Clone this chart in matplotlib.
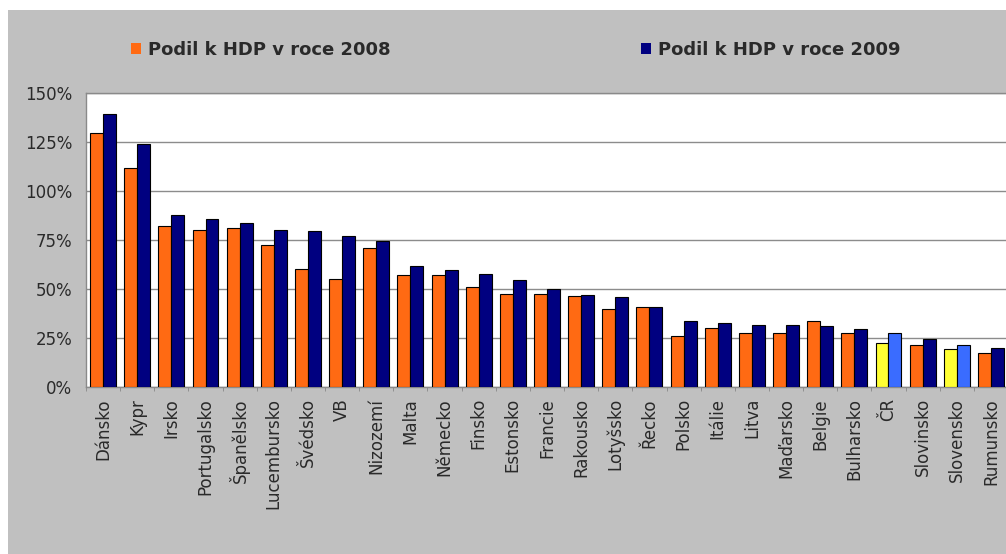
import numpy as np
import matplotlib
matplotlib.use("Agg")
import matplotlib.pyplot as plt
import matplotlib.patches as mpatches
from matplotlib.ticker import FuncFormatter, FixedLocator

countries = ["Dánsko", "Kypr", "Irsko", "Portugalsko", "Španělsko", "Lucembursko",
             "Švédsko", "VB", "Nizozemí", "Malta", "Německo", "Finsko", "Estonsko",
             "Francie", "Rakousko", "Lotyšsko", "Řecko", "Polsko", "Itálie", "Litva",
             "Maďarsko", "Belgie", "Bulharsko", "ČR", "Slovinsko", "Slovensko", "Rumunsko"]
share_2008 = [129.5, 111.7, 82.3, 80.3, 81.3, 72.4, 60.2, 55.1, 71.1, 57.1, 57.1, 50.8,
              47.5, 47.5, 46.2, 39.6, 40.9, 25.9, 30.0, 27.3, 27.3, 33.7, 27.3, 22.5,
              21.2, 19.3, 17.2]
share_2009 = [139.3, 124.1, 87.9, 85.6, 83.5, 80.3, 79.4, 77.2, 74.3, 61.9, 59.5, 57.6,
              54.5, 49.9, 46.9, 46.0, 40.9, 33.6, 32.7, 31.5, 31.5, 31.2, 29.5, 27.3,
              24.7, 21.5, 19.9]
highlighted = ["ČR", "Slovensko"]
legend_labels = ["Podil k HDP v roce 2008", "Podil k HDP v roce 2009"]

ORANGE = "#ff6a13"
NAVY = "#000080"
YELLOW = "#ffff33"
BLUE = "#3a6cff"
GRAY = "#c0c0c0"

plt.rcParams["font.family"] = ["DejaVu Sans"]

fig = plt.figure(figsize=(10.06, 5.54), dpi=100)
fig.patch.set_facecolor("white")
W, H = 1006, 554

# grey panel behind chart
fig.add_artist(mpatches.Rectangle((8 / W, 0), 1 - 8 / W, 1 - 10 / H,
                                  transform=fig.transFigure, facecolor=GRAY,
                                  edgecolor="none", zorder=-10))

ax = fig.add_axes([86 / W, 1 - 387 / H, 922 / W, 294 / H])
ax.set_facecolor("white")

x = np.arange(len(countries))
bw = 0.38
c08 = [YELLOW if c in highlighted else ORANGE for c in countries]
c09 = [BLUE if c in highlighted else NAVY for c in countries]
ax.bar(x - bw / 2, share_2008, bw, color=c08, edgecolor="black", linewidth=0.8, zorder=3)
ax.bar(x + bw / 2, share_2009, bw, color=c09, edgecolor="black", linewidth=0.8, zorder=3)

ax.set_xlim(-0.5, len(countries) - 0.5)
ax.set_ylim(0, 150)
ax.set_yticks(np.arange(0, 151, 25))
ax.yaxis.set_major_formatter(FuncFormatter(lambda v, p: f"{int(v)}%"))
ax.yaxis.grid(True, color="#8c8c8c", linewidth=1, zorder=0)
ax.set_axisbelow(True)
ax.tick_params(axis="y", length=0, labelsize=12, labelcolor="#2a2a2a", pad=10)

ax.set_xticks(x)
ax.set_xticklabels(countries, rotation=90, fontsize=12, color="#2a2a2a")
ax.tick_params(axis="x", length=0, pad=8)
ax.xaxis.set_minor_locator(FixedLocator(np.arange(-0.5, len(countries), 1)))
ax.tick_params(axis="x", which="minor", length=3, color="#888888")

for s in ax.spines.values():
    s.set_color("#8a8a8a")
    s.set_linewidth(1)

handles = [mpatches.Patch(facecolor=ORANGE, edgecolor="none"),
           mpatches.Patch(facecolor=NAVY, edgecolor="none")]
for h, lab, xpos in zip(handles, legend_labels, [131 / W, 641 / W]):
    leg = fig.legend([h], [lab], loc="center left", bbox_to_anchor=(xpos, 1 - 50 / H),
                     frameon=False, fontsize=13, handlelength=0.55, handleheight=0.55,
                     handletextpad=0.4, borderpad=0, borderaxespad=0)
    for t in leg.get_texts():
        t.set_color("#2a2a2a")
        t.set_fontweight("bold")

fig.savefig("out.png", dpi=100, facecolor=fig.get_facecolor())
